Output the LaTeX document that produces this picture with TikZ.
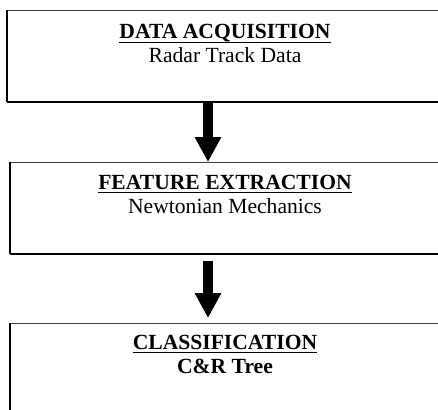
\documentclass[tikz,border=0pt]{standalone}
\usepackage{fontspec}
\setmainfont{Liberation Serif}
\usetikzlibrary{arrows.meta}
\begin{document}
\begin{tikzpicture}[x=1pt,y=-1pt,
  stagebox/.style={draw=black!75, line width=0.8pt, fill=white, inner sep=0pt, anchor=north west},
  heading/.style={inner sep=0pt, anchor=base, font=\fontsize{21.6}{24}\selectfont\bfseries},
  subtext/.style={inner sep=0pt, anchor=base, font=\fontsize{21.6}{24}\selectfont},
  bigarrow/.style={line width=10pt, -{Triangle[width=25pt,length=25pt]}},
  shadowline/.style={line width=2pt, black}
]
\clip (0,0) rectangle (438,409);
\fill[white] (0,0) rectangle (438,409);

% boxes
\node[stagebox, minimum width=436pt, minimum height=91pt] (b1) at (7,10) {};
\node[stagebox, minimum width=433pt, minimum height=91pt] (b2) at (10,162) {};
\node[stagebox, minimum width=433pt, minimum height=110pt] (b3) at (10,323) {};
\foreach \b in {b1,b2,b3}{
  \draw[shadowline, line width=1.4pt] (\b.north west) -- (\b.south west);
  \draw[shadowline, line width=2.2pt] (\b.south west) -- (\b.south east);
}

% texts
\node[heading] (t1) at (225,39) {DATA ACQUISITION};
\node[subtext] (s1) at (225,63) {Radar Track Data};
\node[heading] (t2) at (225,189) {FEATURE EXTRACTION};
\node[subtext] (s2) at (225,213) {Newtonian Mechanics};
\node[heading] (t3) at (225,349) {CLASSIFICATION};
\node[subtext, font=\fontsize{21.6}{24}\selectfont\bfseries] (s3) at (225,373) {C\&R Tree};
\foreach \t in {t1,t2,t3}{
  \draw[line width=1pt] ([yshift=-3.8pt]\t.base west) -- ([yshift=-3.8pt]\t.base east);
}

% arrows
\coordinate (ax) at (208,0);
\draw[bigarrow] (b1.south -| ax) -- (b2.north -| ax);
\draw[bigarrow, shorten <=7pt, shorten >=5pt] (b2.south -| ax) -- (b3.north -| ax);
\end{tikzpicture}
\end{document}
